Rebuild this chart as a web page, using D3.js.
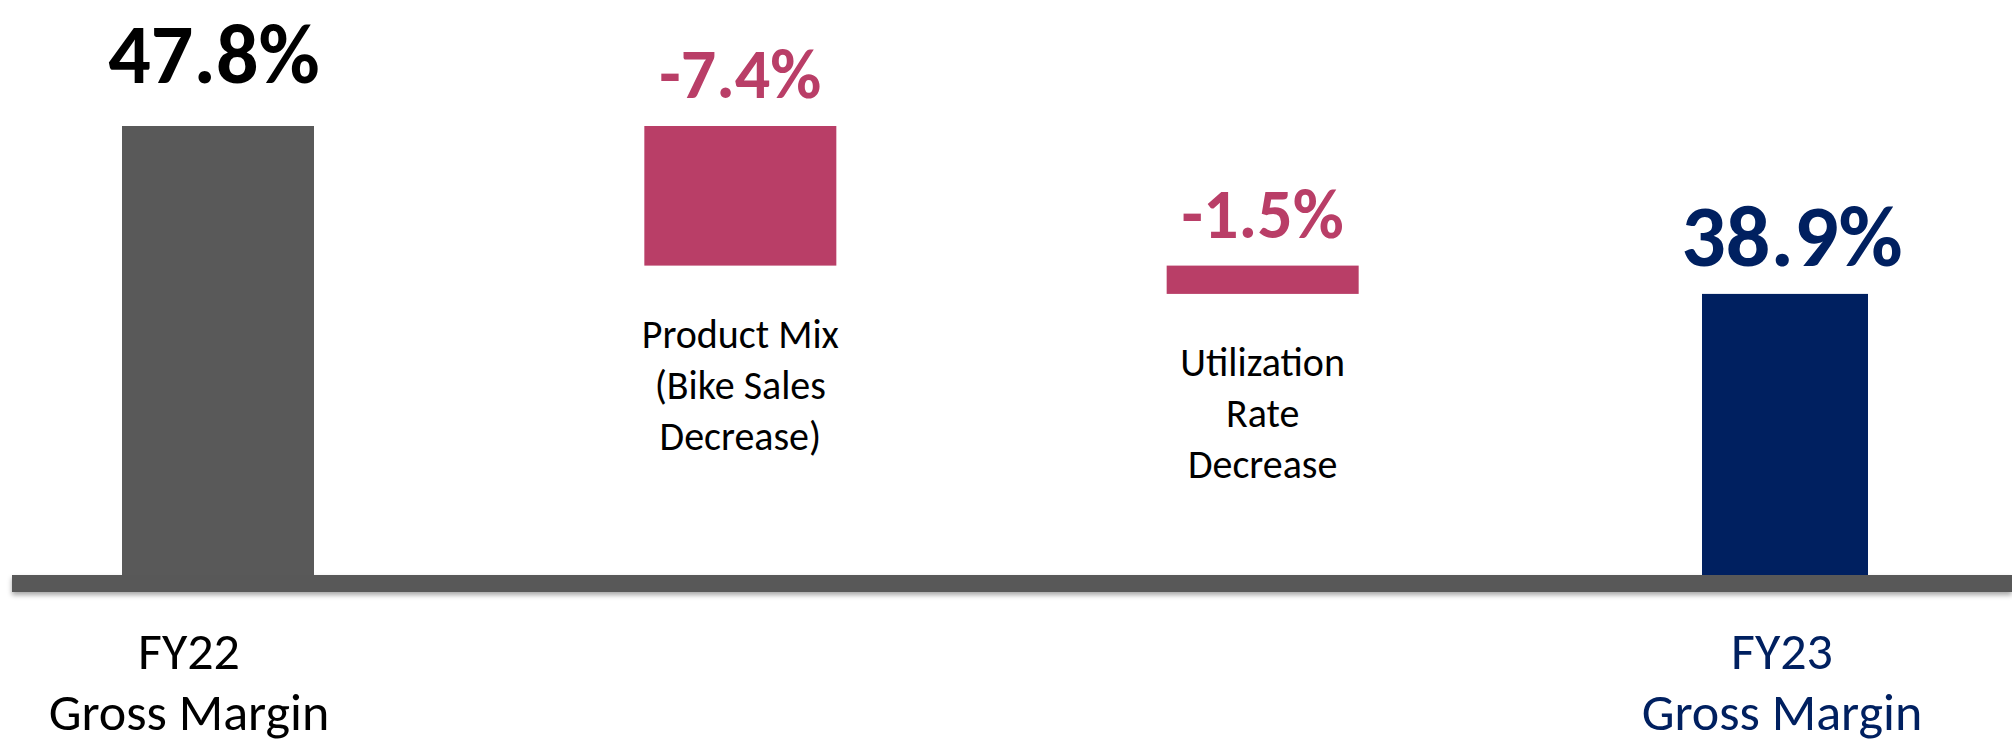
<!DOCTYPE html>
<html>
<head>
<meta charset="utf-8">
<script src="https://cdn.jsdelivr.net/npm/d3@7"></script>
<style>
  html, body { margin: 0; padding: 0; background: #fff; }
  svg { display: block; }
  text { font-family: Carlito, Calibri, Lato, "Open Sans", sans-serif; }
</style>
</head>
<body>
<div id="chart"></div>
<script>
/* ---------- datos ---------- */
const categories = ["FY22", "Product Mix", "Utilization", "FY23"];
const kinds = ["total", "delta", "delta", "total"];
const values = [47.8, -7.4, -1.5, 38.9];
const valueLabels = ["47.8%", "-7.4%", "-1.5%", "38.9%"];
const categoryLines = [
  ["FY22", "Gross Margin"],
  ["Product Mix", "(Bike Sales", "Decrease)"],
  ["Utilization", "Rate", "Decrease"],
  ["FY23", "Gross Margin"]
];

/* ---------- estilos ---------- */
const W = 2012, H = 744;
const GREY = "#595959", PINK = "#B93E67", NAVY = "#002060";
const barFill = [GREY, PINK, PINK, NAVY];
const valueColor = ["#000000", PINK, PINK, NAVY];
const catColor = ["#000000", "#000000", "#000000", NAVY];

const svg = d3.select("#chart")
  .append("svg")
  .attr("width", W)
  .attr("height", H)
  .attr("viewBox", `0 0 ${W} ${H}`);

const defs = svg.append("defs");
const shadow = defs.append("filter").attr("id", "axisShadow")
  .attr("x", "-5%").attr("y", "-50%").attr("width", "110%").attr("height", "250%");
shadow.append("feDropShadow")
  .attr("dx", 0).attr("dy", 3).attr("stdDeviation", 2.5)
  .attr("flood-color", "#000").attr("flood-opacity", 0.35);

/* ---------- escalas ---------- */
const baseY = 575;
const y = d3.scaleLinear().domain([24, 47.8]).range([baseY, 126]);
const x = d3.scalePoint().domain(categories).range([218, 1785]);

// cascada: inicio / fin de cada barra
let running = 0;
const bars = values.map((v, i) => {
  let y0, y1;
  if (kinds[i] === "total") {
    y0 = y.domain()[0]; y1 = v; running = v;
  } else {
    y0 = running; y1 = running + v; running = y1;
  }
  return {
    cat: categories[i], kind: kinds[i], v, i,
    top: Math.max(y0, y1), bottom: Math.min(y0, y1)
  };
});

const barW = d => d.i === 3 ? 166 : 192;

/* ---------- eje (barra gruesa) ---------- */
svg.append("rect")
  .attr("x", 12)
  .attr("y", baseY)
  .attr("width", W - 12)
  .attr("height", 17)
  .attr("fill", GREY)
  .attr("filter", "url(#axisShadow)");

/* ---------- barras ---------- */
svg.append("g").selectAll("rect")
  .data(bars)
  .join("rect")
  .attr("x", d => x(d.cat) - barW(d) / 2)
  .attr("y", d => y(d.top))
  .attr("width", d => barW(d))
  .attr("height", d => y(d.bottom) - y(d.top))
  .attr("fill", d => barFill[d.i]);

/* ---------- etiquetas de valor ---------- */
svg.append("g").selectAll("text")
  .data(bars)
  .join("text")
  .attr("x", d => x(d.cat) + (d.i === 3 ? 7 : d.i === 0 ? -4 : 0))
  .attr("y", d => y(d.top) - (d.i === 0 ? 43 : 28))
  .attr("text-anchor", "middle")
  .attr("font-weight", "bold")
  .attr("font-size", d => d.i === 0 ? 84 : d.kind === "total" ? 88 : 70)
  .attr("fill", d => valueColor[d.i])
  .text(d => valueLabels[d.i]);

/* ---------- etiquetas de categoría ---------- */
const catG = svg.append("g");
bars.forEach(d => {
  const isTotal = d.kind === "total";
  const t = catG.append("text")
    .attr("text-anchor", "middle")
    .attr("font-size", isTotal ? 52 : 40)
    .attr("fill", catColor[d.i]);
  const cx = x(d.cat) - (d.i === 0 ? 29 : d.i === 3 ? 3 : 0);
  const firstY = isTotal ? 669 : y(d.bottom) + 82;
  const lh = isTotal ? 61 : 51;
  categoryLines[d.i].forEach((line, k) => {
    t.append("tspan")
      .attr("x", cx)
      .attr("y", firstY + k * lh)
      .text(line);
  });
});
</script>
</body>
</html>
